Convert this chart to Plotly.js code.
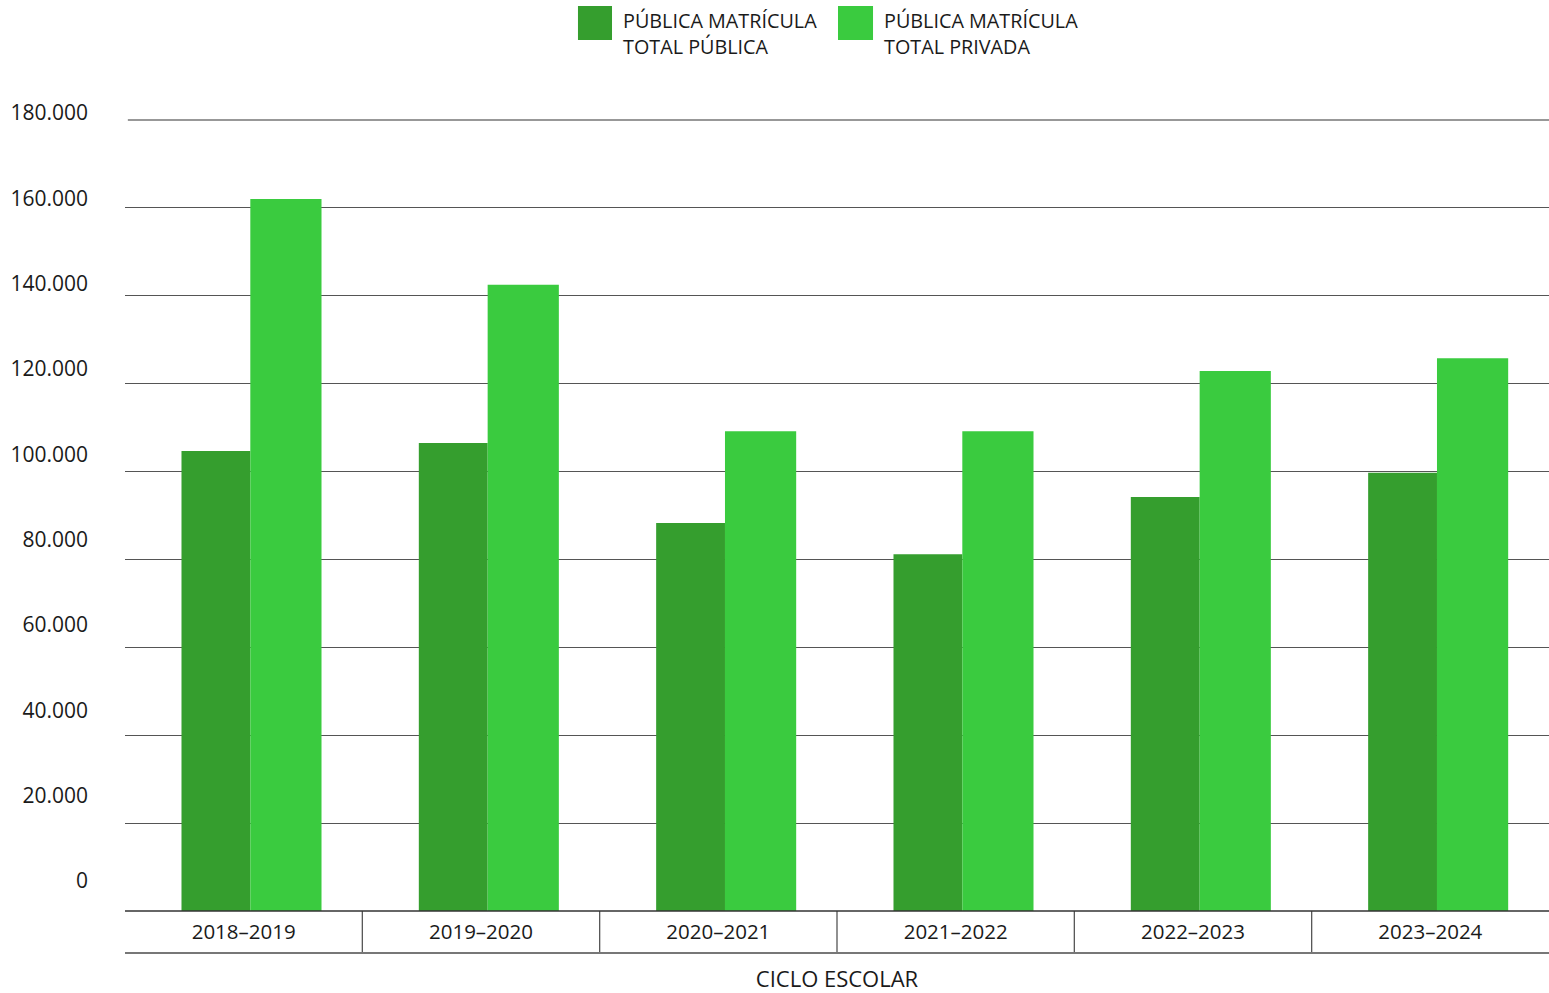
<!DOCTYPE html>
<html>
<head>
<meta charset="utf-8">
<script src="https://cdn.plot.ly/plotly-3.0.1.min.js"></script>
<style>html,body{margin:0;padding:0;background:#fff;}#chart{width:1549px;height:993px;}</style>
</head>
<body>
<div id="chart"></div>
<script>
const categories = ['2018–2019', '2019–2020', '2020–2021', '2021–2022', '2022–2023', '2023–2024'];
const publicaValues = [104700, 106500, 88300, 81200, 94200, 99700];
const privadaValues = [162000, 142500, 109200, 109200, 122900, 125800];
const seriesNames = ['PÚBLICA MATRÍCULA<br>TOTAL PÚBLICA', 'PÚBLICA MATRÍCULA<br>TOTAL PRIVADA'];
const tickValues = [0, 20000, 40000, 60000, 80000, 100000, 120000, 140000, 160000, 180000];
const tickLabels = ['0', '20.000', '40.000', '60.000', '80.000', '100.000', '120.000', '140.000', '160.000', '180.000'];
const xTitle = 'CICLO ESCOLAR';

const DARK = '#359E2E', LIGHT = '#3ACB3F';
const FONT = 'Open Sans, Noto Sans, sans-serif';
const TXT = '#1a1a1a';

const traces = [
  {type: 'bar', x: categories, y: publicaValues, name: seriesNames[0], marker: {color: DARK},
   width: 0.29, offset: -0.262, hoverinfo: 'x+y'},
  {type: 'bar', x: categories, y: privadaValues, name: seriesNames[1], marker: {color: LIGHT},
   width: 0.30, offset: 0.028, hoverinfo: 'x+y'},
  {type: 'scatter', x: [categories[0]], y: [null], yaxis: 'y2', showlegend: false, hoverinfo: 'skip'}
];

const n = categories.length;
const shapes = [];
// top gridline at the axis maximum (top edge of plot area)
shapes.push({type: 'line', xref: 'paper', yref: 'paper', x0: 0.002, x1: 1, y0: 1, y1: 1,
             line: {color: '#333', width: 1.2}});
// table separators below the axis
for (let i = 1; i < n; i++) {
  shapes.push({type: 'line', xref: 'x', yref: 'paper', x0: i - 0.5, x1: i - 0.5, y0: 0, y1: -0.0531,
               line: {color: '#555', width: 1.3}});
}
shapes.push({type: 'line', xref: 'paper', yref: 'paper', x0: 0, x1: 1, y0: -0.0531, y1: -0.0531,
             line: {color: '#777', width: 2}});
shapes.push({type: 'line', xref: 'paper', yref: 'paper', x0: 0, x1: 1, y0: 0, y1: 0,
             line: {color: '#333', width: 1.3}});
// custom legend swatches
const legendBoxes = [[0.3181, 0.3420], [0.5007, 0.5253]];
const legendColors = [DARK, LIGHT];
const annotations = [];
legendBoxes.forEach((b, i) => {
  shapes.push({type: 'rect', xref: 'paper', yref: 'paper', x0: b[0], x1: b[1], y0: 1.1011, y1: 1.1441,
               line: {width: 0}, fillcolor: legendColors[i]});
  annotations.push({xref: 'paper', yref: 'paper', x: b[1] + 0.0065, y: 1.109, xanchor: 'left', yanchor: 'middle',
                    text: seriesNames[i], showarrow: false, align: 'left',
                    font: {family: FONT, size: 19.8, color: TXT}});
});

const layout = {
  width: 1549, height: 993,
  margin: {l: 125, r: 0, t: 120, b: 82},
  paper_bgcolor: '#fff', plot_bgcolor: '#fff',
  showlegend: false,
  barmode: 'group',
  font: {family: FONT, color: TXT},
  xaxis: {
    type: 'category', showgrid: false, zeroline: false, showline: false,
    ticks: '', tickfont: {family: FONT, size: 20.5, color: TXT}, ticklabelstandoff: 6,
    title: {text: xTitle, font: {family: FONT, size: 22, color: TXT}, standoff: 29},
    automargin: false, fixedrange: true
  },
  yaxis: {
    range: [0, 180000], tickvals: tickValues, ticktext: tickLabels, showticklabels: false,
    showgrid: true, gridcolor: '#555', gridwidth: 1.2, zeroline: false, showline: false,
    automargin: false, fixedrange: true
  },
  yaxis2: {
    overlaying: 'y', side: 'left', range: [-4687.5, 180703], tickvals: tickValues, ticktext: tickLabels,
    showgrid: false, zeroline: false, showline: false, ticks: '',
    ticklabelshift: -10, ticklabelstandoff: 36,
    tickfont: {family: FONT, size: 21, color: TXT}, automargin: false, fixedrange: true
  },
  shapes: shapes,
  annotations: annotations
};

Plotly.newPlot('chart', traces, layout, {displayModeBar: false, responsive: false});
</script>
</body>
</html>
